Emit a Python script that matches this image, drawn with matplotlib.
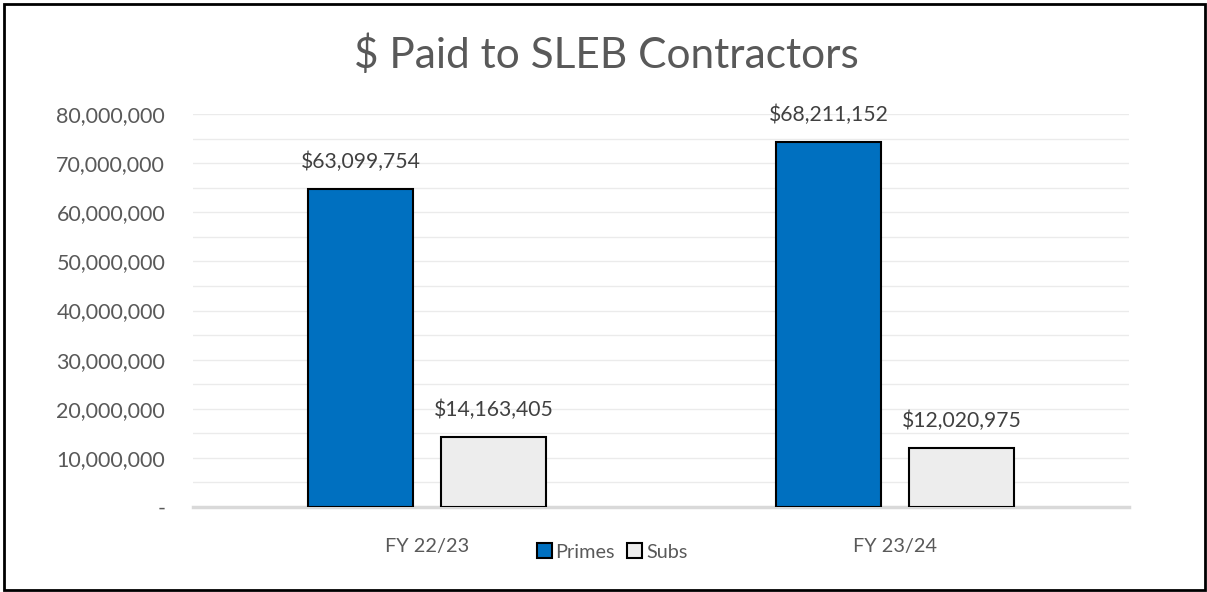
import matplotlib
matplotlib.use('Agg')
import matplotlib.pyplot as plt
import numpy as np
from matplotlib.patches import Rectangle
from matplotlib.ticker import FuncFormatter, MultipleLocator

# Values
categories = ['FY 22/23', 'FY 23/24']
primes = [64.7e6, 74.3e6]
subs = [14.2e6, 12.1e6]
primes_labels = ['$63,099,754', '$68,211,152']
subs_labels = ['$14,163,405', '$12,020,975']

plt.rcParams['font.family'] = ['Lato', 'DejaVu Sans']
txt = '#595959'

fig = plt.figure(figsize=(12.07, 5.92), dpi=100)
ax = fig.add_axes([193/1207, 1-507/592, (1129-193)/1207, (507-114)/592])

x = np.arange(len(categories))
w = 0.226
off = 0.142
b1 = ax.bar(x - off, primes, w, color='#0070C0', edgecolor='black', lw=1.5, label='Primes', zorder=3)
b2 = ax.bar(x + off, subs, w, color='#EDEDED', edgecolor='black', lw=1.5, label='Subs', zorder=3)

for bars, labs in [(b1, primes_labels), (b2, subs_labels)]:
    for r, lab in zip(bars, labs):
        ax.annotate(lab, (r.get_x() + r.get_width()/2, r.get_height()),
                    xytext=(0, 12), textcoords='offset points',
                    ha='center', va='bottom', fontsize=15.2, color='#404040')

ax.set_xlim(-0.5, 1.5)
ax.set_ylim(0, 80e6)
ax.yaxis.set_major_locator(MultipleLocator(10e6))
ax.yaxis.set_minor_locator(MultipleLocator(5e6))
ax.yaxis.set_major_formatter(FuncFormatter(lambda v, p: '-' if v == 0 else f'{v:,.0f}'))
ax.grid(axis='y', which='both', color='#ebebeb', lw=1, zorder=0)
ax.set_xticks(x)
ax.set_xticklabels(categories)
ax.tick_params(axis='x', length=0, pad=22, labelsize=14.3, labelcolor=txt)
ax.tick_params(axis='y', which='both', length=0, pad=20, labelsize=15.5, labelcolor=txt)
for s in ['top', 'right', 'left']:
    ax.spines[s].set_visible(False)
ax.spines['bottom'].set_color('#d9d9d9')
ax.spines['bottom'].set_linewidth(2.5)

fig.suptitle('$ Paid to SLEB Contractors', x=606/1207, y=1-55/592, va='center',
             fontsize=30.5, color=txt)

fig.legend(loc='center', bbox_to_anchor=(612/1207, 1-552/592), ncol=2, frameon=False,
           handlelength=0.75, handleheight=0.75, handletextpad=0.2, columnspacing=0.6,
           fontsize=14.3, labelcolor=txt)

fig.patches.append(Rectangle((4/1207, 2/592), 1201/1207, 586/592, transform=fig.transFigure,
                             fill=False, edgecolor='black', lw=2))

fig.savefig('out.png', dpi=100)
